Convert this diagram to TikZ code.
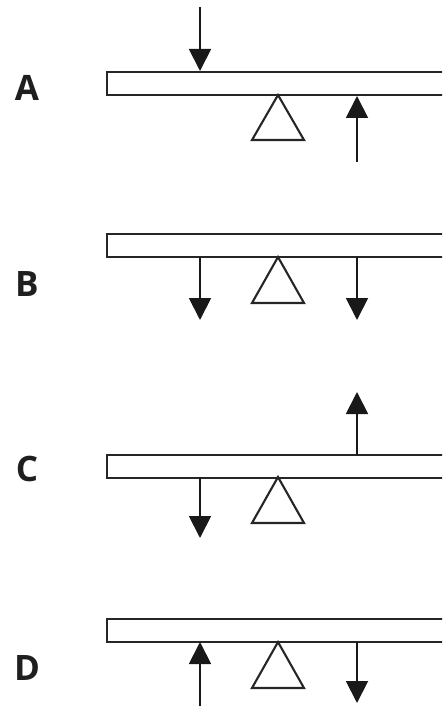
\documentclass[tikz,border=0pt]{standalone}
\usepackage{fontspec}
\setsansfont{Open Sans}
\usetikzlibrary{arrows.meta}
\tikzset{
  beam/.style={draw=black!85, line width=2.1pt, rectangle, minimum width=380pt, minimum height=23pt, anchor=north west, inner sep=0pt, outer sep=0pt},
  force/.style={draw=black!90, line width=1.9pt, -{Triangle[width=22pt,length=22pt]}},
  pivot/.style={draw=black!85, line width=2.1pt, fill=white, line join=miter},
  lab/.style={font=\sffamily\bfseries\fontsize{35}{35}\selectfont, text=black!88, inner sep=0pt}
}
\begin{document}
\begin{tikzpicture}[x=1pt,y=-1pt]
\useasboundingbox (0,0) rectangle (442,706);
\clip (0,0) rectangle (442,706);
% ---------- A ----------
\node[lab] (lA) at (27,88) {A};
\node[beam] (bA) at (107,72) {};
\coordinate (A1s) at (200,7);
\coordinate (A1e) at (200,71);
\coordinate (A2s) at (357,162);
\coordinate (A2e) at (357,96);
\draw[force] (A1s) -- (A1e);
\draw[force] (A2s) -- (A2e);
\draw[pivot] (278,95) -- (304,140) -- (252,140) -- cycle;
% ---------- B ----------
\node[lab] (lB) at (27,284) {B};
\node[beam] (bB) at (107,234) {};
\coordinate (B1s) at (200,257);
\coordinate (B1e) at (200,320);
\coordinate (B2s) at (357,257);
\coordinate (B2e) at (357,320);
\draw[force] (B1s) -- (B1e);
\draw[force] (B2s) -- (B2e);
\draw[pivot] (278,257) -- (304,303) -- (252,303) -- cycle;
% ---------- C ----------
\node[lab] (lC) at (27,469) {C};
\node[beam] (bC) at (107,455) {};
\coordinate (C1s) at (357,455);
\coordinate (C1e) at (357,392);
\coordinate (C2s) at (200,477);
\coordinate (C2e) at (200,538);
\draw[force] (C1s) -- (C1e);
\draw[force] (C2s) -- (C2e);
\draw[pivot] (278,477) -- (304,523) -- (252,523) -- cycle;
% ---------- D ----------
\node[lab] (lD) at (27,668) {D};
\node[beam] (bD) at (107,619) {};
\coordinate (D1s) at (200,710);
\coordinate (D1e) at (200,642);
\coordinate (D2s) at (357,642);
\coordinate (D2e) at (357,703);
\draw[force] (D1s) -- (D1e);
\draw[force] (D2s) -- (D2e);
\draw[pivot] (278,642) -- (304,688) -- (252,688) -- cycle;
\end{tikzpicture}
\end{document}
